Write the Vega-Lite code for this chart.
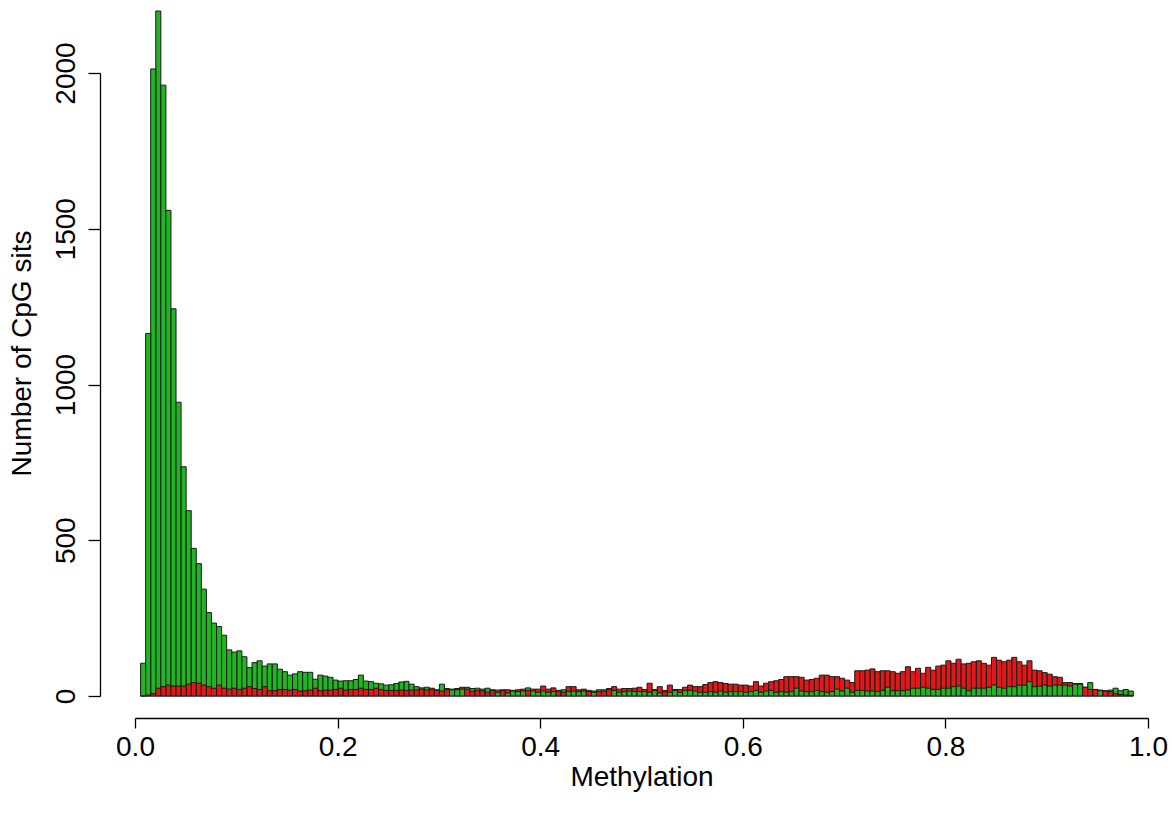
{
  "$schema": "https://vega.github.io/schema/vega-lite/v6.json",
  "autosize": {"type": "none"},
  "width": 1013,
  "height": 623,
  "padding": {"left": 135, "top": 73, "right": 24, "bottom": 124},
  "background": "white",
  "config": {
    "view": {"stroke": null},
    "font": "Liberation Sans",
    "axis": {
      "grid": false,
      "domainColor": "#000000",
      "tickColor": "#000000",
      "labelColor": "#000000",
      "titleColor": "#000000",
      "labelFont": "Liberation Sans",
      "titleFont": "Liberation Sans",
      "labelFontSize": 28,
      "titleFontSize": 28,
      "titleFontWeight": "normal",
      "domainWidth": 1.3,
      "tickWidth": 1.3
    }
  },
  "data": {
    "values": [
      {"lo":0.005,"hi":0.010,"green":105,"red":0},
      {"lo":0.010,"hi":0.015,"green":1164,"red":3},
      {"lo":0.015,"hi":0.020,"green":2013,"red":8},
      {"lo":0.020,"hi":0.025,"green":2199,"red":25},
      {"lo":0.025,"hi":0.030,"green":1961,"red":30},
      {"lo":0.030,"hi":0.035,"green":1559,"red":35},
      {"lo":0.035,"hi":0.040,"green":1243,"red":32},
      {"lo":0.040,"hi":0.045,"green":943,"red":32},
      {"lo":0.045,"hi":0.050,"green":736,"red":32},
      {"lo":0.050,"hi":0.055,"green":595,"red":38},
      {"lo":0.055,"hi":0.060,"green":474,"red":43},
      {"lo":0.060,"hi":0.065,"green":425,"red":41},
      {"lo":0.065,"hi":0.070,"green":343,"red":35},
      {"lo":0.070,"hi":0.075,"green":268,"red":30},
      {"lo":0.075,"hi":0.080,"green":234,"red":25},
      {"lo":0.080,"hi":0.085,"green":223,"red":35},
      {"lo":0.085,"hi":0.090,"green":195,"red":25},
      {"lo":0.090,"hi":0.095,"green":148,"red":22},
      {"lo":0.095,"hi":0.100,"green":141,"red":25},
      {"lo":0.100,"hi":0.105,"green":145,"red":21},
      {"lo":0.105,"hi":0.110,"green":126,"red":25},
      {"lo":0.110,"hi":0.115,"green":91,"red":30},
      {"lo":0.115,"hi":0.120,"green":107,"red":24},
      {"lo":0.120,"hi":0.125,"green":113,"red":21},
      {"lo":0.125,"hi":0.130,"green":96,"red":30},
      {"lo":0.130,"hi":0.135,"green":103,"red":17},
      {"lo":0.135,"hi":0.140,"green":103,"red":17},
      {"lo":0.140,"hi":0.145,"green":86,"red":21},
      {"lo":0.145,"hi":0.150,"green":78,"red":21},
      {"lo":0.150,"hi":0.155,"green":67,"red":19},
      {"lo":0.155,"hi":0.160,"green":71,"red":21},
      {"lo":0.160,"hi":0.165,"green":78,"red":16},
      {"lo":0.165,"hi":0.170,"green":76,"red":17},
      {"lo":0.170,"hi":0.175,"green":76,"red":19},
      {"lo":0.175,"hi":0.180,"green":54,"red":25},
      {"lo":0.180,"hi":0.185,"green":67,"red":17},
      {"lo":0.185,"hi":0.190,"green":64,"red":19},
      {"lo":0.190,"hi":0.195,"green":60,"red":19},
      {"lo":0.195,"hi":0.200,"green":51,"red":21},
      {"lo":0.200,"hi":0.205,"green":48,"red":25},
      {"lo":0.205,"hi":0.210,"green":49,"red":19},
      {"lo":0.210,"hi":0.215,"green":49,"red":21},
      {"lo":0.215,"hi":0.220,"green":53,"red":21},
      {"lo":0.220,"hi":0.225,"green":67,"red":25},
      {"lo":0.225,"hi":0.230,"green":48,"red":21},
      {"lo":0.230,"hi":0.235,"green":46,"red":21},
      {"lo":0.235,"hi":0.240,"green":41,"red":25},
      {"lo":0.240,"hi":0.245,"green":39,"red":21},
      {"lo":0.245,"hi":0.250,"green":35,"red":18},
      {"lo":0.250,"hi":0.255,"green":36,"red":18},
      {"lo":0.255,"hi":0.260,"green":40,"red":18},
      {"lo":0.260,"hi":0.265,"green":45,"red":19},
      {"lo":0.265,"hi":0.270,"green":47,"red":18},
      {"lo":0.270,"hi":0.275,"green":38,"red":19},
      {"lo":0.275,"hi":0.280,"green":30,"red":20},
      {"lo":0.280,"hi":0.285,"green":26,"red":22},
      {"lo":0.285,"hi":0.290,"green":28,"red":20},
      {"lo":0.290,"hi":0.295,"green":25,"red":22},
      {"lo":0.295,"hi":0.300,"green":20,"red":18},
      {"lo":0.300,"hi":0.305,"green":38,"red":16},
      {"lo":0.305,"hi":0.310,"green":24,"red":20},
      {"lo":0.310,"hi":0.315,"green":20,"red":22},
      {"lo":0.315,"hi":0.320,"green":20,"red":24},
      {"lo":0.320,"hi":0.325,"green":22,"red":28},
      {"lo":0.325,"hi":0.330,"green":28,"red":22},
      {"lo":0.330,"hi":0.335,"green":24,"red":15},
      {"lo":0.335,"hi":0.340,"green":25,"red":18},
      {"lo":0.340,"hi":0.345,"green":22,"red":17},
      {"lo":0.345,"hi":0.350,"green":25,"red":12},
      {"lo":0.350,"hi":0.355,"green":20,"red":18},
      {"lo":0.355,"hi":0.360,"green":12,"red":19},
      {"lo":0.360,"hi":0.365,"green":20,"red":17},
      {"lo":0.365,"hi":0.370,"green":10,"red":20},
      {"lo":0.370,"hi":0.375,"green":16,"red":18},
      {"lo":0.375,"hi":0.380,"green":14,"red":20},
      {"lo":0.380,"hi":0.385,"green":16,"red":22},
      {"lo":0.385,"hi":0.390,"green":26,"red":18},
      {"lo":0.390,"hi":0.395,"green":16,"red":22},
      {"lo":0.395,"hi":0.400,"green":12,"red":22},
      {"lo":0.400,"hi":0.405,"green":16,"red":32},
      {"lo":0.405,"hi":0.410,"green":12,"red":22},
      {"lo":0.410,"hi":0.415,"green":14,"red":26},
      {"lo":0.415,"hi":0.420,"green":18,"red":16},
      {"lo":0.420,"hi":0.425,"green":20,"red":12},
      {"lo":0.425,"hi":0.430,"green":14,"red":30},
      {"lo":0.430,"hi":0.435,"green":16,"red":30},
      {"lo":0.435,"hi":0.440,"green":14,"red":20},
      {"lo":0.440,"hi":0.445,"green":16,"red":22},
      {"lo":0.445,"hi":0.450,"green":18,"red":14},
      {"lo":0.450,"hi":0.455,"green":12,"red":16},
      {"lo":0.455,"hi":0.460,"green":20,"red":14},
      {"lo":0.460,"hi":0.465,"green":20,"red":16},
      {"lo":0.465,"hi":0.470,"green":24,"red":20},
      {"lo":0.470,"hi":0.475,"green":18,"red":30},
      {"lo":0.475,"hi":0.480,"green":12,"red":22},
      {"lo":0.480,"hi":0.485,"green":14,"red":24},
      {"lo":0.485,"hi":0.490,"green":16,"red":24},
      {"lo":0.490,"hi":0.495,"green":15,"red":25},
      {"lo":0.495,"hi":0.500,"green":14,"red":28},
      {"lo":0.500,"hi":0.505,"green":14,"red":21},
      {"lo":0.505,"hi":0.510,"green":12,"red":41},
      {"lo":0.510,"hi":0.515,"green":17,"red":21},
      {"lo":0.515,"hi":0.520,"green":10,"red":30},
      {"lo":0.520,"hi":0.525,"green":18,"red":14},
      {"lo":0.525,"hi":0.530,"green":12,"red":35},
      {"lo":0.530,"hi":0.535,"green":18,"red":21},
      {"lo":0.535,"hi":0.540,"green":12,"red":21},
      {"lo":0.540,"hi":0.545,"green":18,"red":28},
      {"lo":0.545,"hi":0.550,"green":18,"red":35},
      {"lo":0.550,"hi":0.555,"green":16,"red":30},
      {"lo":0.555,"hi":0.560,"green":12,"red":30},
      {"lo":0.560,"hi":0.565,"green":12,"red":37},
      {"lo":0.565,"hi":0.570,"green":14,"red":43},
      {"lo":0.570,"hi":0.575,"green":12,"red":46},
      {"lo":0.575,"hi":0.580,"green":16,"red":43},
      {"lo":0.580,"hi":0.585,"green":12,"red":40},
      {"lo":0.585,"hi":0.590,"green":14,"red":38},
      {"lo":0.590,"hi":0.595,"green":14,"red":38},
      {"lo":0.595,"hi":0.600,"green":14,"red":35},
      {"lo":0.600,"hi":0.605,"green":12,"red":35},
      {"lo":0.605,"hi":0.610,"green":14,"red":32},
      {"lo":0.610,"hi":0.615,"green":18,"red":46},
      {"lo":0.615,"hi":0.620,"green":12,"red":32},
      {"lo":0.620,"hi":0.625,"green":16,"red":41},
      {"lo":0.625,"hi":0.630,"green":18,"red":46},
      {"lo":0.630,"hi":0.635,"green":12,"red":49},
      {"lo":0.635,"hi":0.640,"green":14,"red":53},
      {"lo":0.640,"hi":0.645,"green":12,"red":62},
      {"lo":0.645,"hi":0.650,"green":14,"red":62},
      {"lo":0.650,"hi":0.655,"green":25,"red":62},
      {"lo":0.655,"hi":0.660,"green":16,"red":60},
      {"lo":0.660,"hi":0.665,"green":14,"red":51},
      {"lo":0.665,"hi":0.670,"green":14,"red":53},
      {"lo":0.670,"hi":0.675,"green":18,"red":57},
      {"lo":0.675,"hi":0.680,"green":14,"red":67},
      {"lo":0.680,"hi":0.685,"green":12,"red":67},
      {"lo":0.685,"hi":0.690,"green":14,"red":62},
      {"lo":0.690,"hi":0.695,"green":22,"red":62},
      {"lo":0.695,"hi":0.700,"green":16,"red":57},
      {"lo":0.700,"hi":0.705,"green":25,"red":51},
      {"lo":0.705,"hi":0.710,"green":12,"red":43},
      {"lo":0.710,"hi":0.715,"green":18,"red":81},
      {"lo":0.715,"hi":0.720,"green":18,"red":81},
      {"lo":0.720,"hi":0.725,"green":16,"red":83},
      {"lo":0.725,"hi":0.730,"green":16,"red":87},
      {"lo":0.730,"hi":0.735,"green":14,"red":78},
      {"lo":0.735,"hi":0.740,"green":18,"red":81},
      {"lo":0.740,"hi":0.745,"green":28,"red":81},
      {"lo":0.745,"hi":0.750,"green":17,"red":78},
      {"lo":0.750,"hi":0.755,"green":17,"red":73},
      {"lo":0.755,"hi":0.760,"green":17,"red":78},
      {"lo":0.760,"hi":0.765,"green":19,"red":94},
      {"lo":0.765,"hi":0.770,"green":25,"red":78},
      {"lo":0.770,"hi":0.775,"green":25,"red":89},
      {"lo":0.775,"hi":0.780,"green":28,"red":73},
      {"lo":0.780,"hi":0.785,"green":25,"red":92},
      {"lo":0.785,"hi":0.790,"green":21,"red":83},
      {"lo":0.790,"hi":0.795,"green":21,"red":96},
      {"lo":0.795,"hi":0.800,"green":25,"red":99},
      {"lo":0.800,"hi":0.805,"green":25,"red":113},
      {"lo":0.805,"hi":0.810,"green":30,"red":105},
      {"lo":0.810,"hi":0.815,"green":32,"red":118},
      {"lo":0.815,"hi":0.820,"green":25,"red":103},
      {"lo":0.820,"hi":0.825,"green":17,"red":105},
      {"lo":0.825,"hi":0.830,"green":25,"red":110},
      {"lo":0.830,"hi":0.835,"green":25,"red":113},
      {"lo":0.835,"hi":0.840,"green":25,"red":105},
      {"lo":0.840,"hi":0.845,"green":28,"red":99},
      {"lo":0.845,"hi":0.850,"green":35,"red":124},
      {"lo":0.850,"hi":0.855,"green":28,"red":115},
      {"lo":0.855,"hi":0.860,"green":25,"red":110},
      {"lo":0.860,"hi":0.865,"green":30,"red":115},
      {"lo":0.865,"hi":0.870,"green":30,"red":124},
      {"lo":0.870,"hi":0.875,"green":35,"red":110},
      {"lo":0.875,"hi":0.880,"green":35,"red":99},
      {"lo":0.880,"hi":0.885,"green":46,"red":113},
      {"lo":0.885,"hi":0.890,"green":30,"red":83},
      {"lo":0.890,"hi":0.895,"green":32,"red":81},
      {"lo":0.895,"hi":0.900,"green":35,"red":75},
      {"lo":0.900,"hi":0.905,"green":32,"red":70},
      {"lo":0.905,"hi":0.910,"green":35,"red":62},
      {"lo":0.910,"hi":0.915,"green":35,"red":60},
      {"lo":0.915,"hi":0.920,"green":35,"red":43},
      {"lo":0.920,"hi":0.925,"green":32,"red":43},
      {"lo":0.925,"hi":0.930,"green":38,"red":40},
      {"lo":0.930,"hi":0.935,"green":38,"red":40},
      {"lo":0.935,"hi":0.940,"green":28,"red":28},
      {"lo":0.940,"hi":0.945,"green":43,"red":21},
      {"lo":0.945,"hi":0.950,"green":21,"red":21},
      {"lo":0.950,"hi":0.955,"green":17,"red":19},
      {"lo":0.955,"hi":0.960,"green":17,"red":16},
      {"lo":0.960,"hi":0.965,"green":19,"red":14},
      {"lo":0.965,"hi":0.970,"green":25,"red":8},
      {"lo":0.970,"hi":0.975,"green":17,"red":5},
      {"lo":0.975,"hi":0.980,"green":21,"red":3},
      {"lo":0.980,"hi":0.985,"green":16,"red":2}
    ]
  },
  "transform": [
    {"fold": ["green", "red"], "as": ["group", "count"]}
  ],
  "mark": {"type": "bar", "stroke": "#1a1a1a", "strokeWidth": 1, "binSpacing": 0, "opacity": 1},
  "encoding": {
    "x": {
      "field": "lo",
      "type": "quantitative",
      "bin": "binned",
      "scale": {"domain": [0, 1], "nice": false, "zero": false},
      "axis": {
        "title": "Methylation",
        "values": [0, 0.2, 0.4, 0.6, 0.8, 1.0],
        "format": ".1f",
        "offset": 22,
        "tickSize": 10,
        "labelPadding": 5,
        "titlePadding": 2,
        "labelFlush": false
      }
    },
    "x2": {"field": "hi"},
    "y": {
      "field": "count",
      "type": "quantitative",
      "stack": null,
      "scale": {"domain": [0, 2000], "nice": false, "clamp": false},
      "axis": {
        "title": "Number of CpG sits",
        "values": [0, 500, 1000, 1500, 2000],
        "format": "d",
        "offset": 35,
        "tickSize": 12,
        "labelAngle": -90,
        "labelAlign": "center",
        "labelBaseline": "bottom",
        "labelPadding": 8,
        "titlePadding": 16,
        "titleY": 280,
        "labelFlush": false
      }
    },
    "color": {
      "field": "group",
      "type": "nominal",
      "scale": {"domain": ["green", "red"], "range": ["#22B422", "#E01818"]},
      "legend": null
    },
    "order": {"field": "count", "type": "quantitative", "sort": "descending"}
  }
}
